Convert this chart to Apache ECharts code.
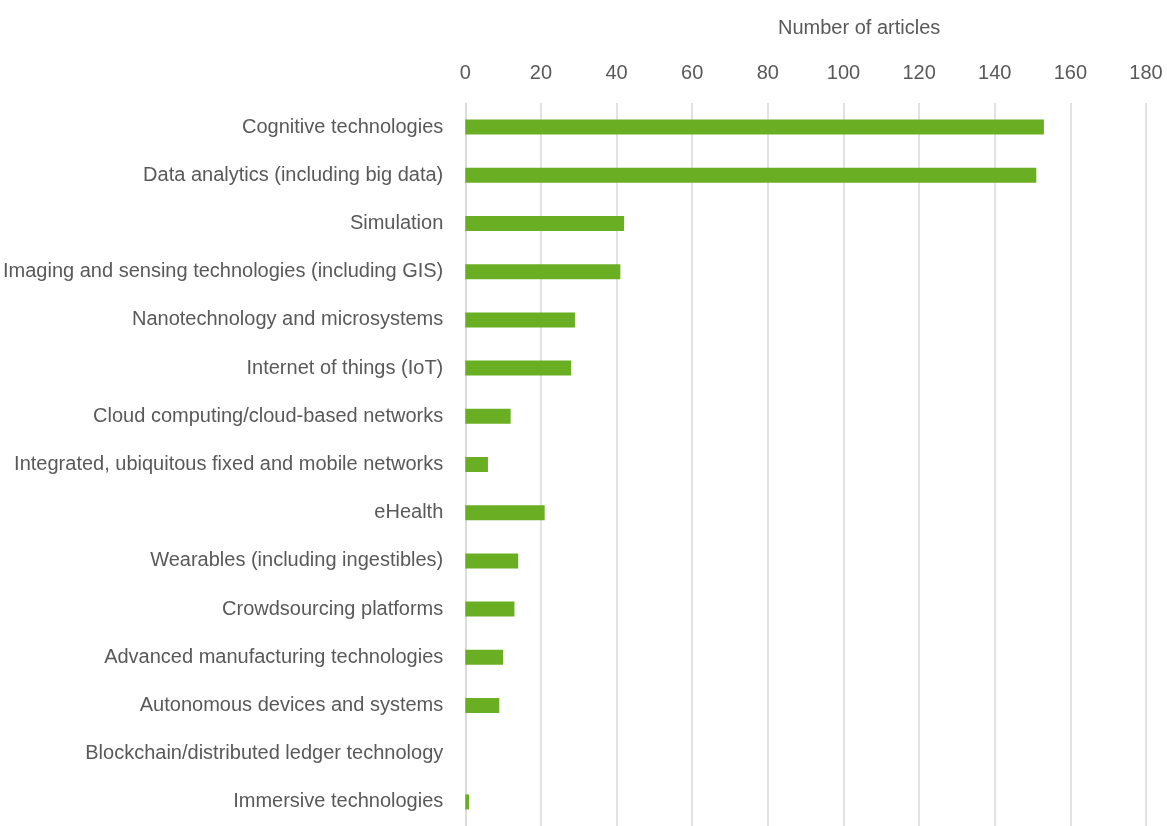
<!DOCTYPE html>
<html>
<head>
<meta charset="utf-8">
<script src="https://cdn.jsdelivr.net/npm/echarts@6/dist/echarts.min.js"></script>
<style>
  html, body { margin: 0; padding: 0; background: #ffffff; }
  #chart { width: 1167px; height: 826px; }
</style>
</head>
<body>
<div id="chart"></div>
<script>
// Technology categories, listed top to bottom
const categories = [
  'Cognitive technologies',
  'Data analytics (including big data)',
  'Simulation',
  'Imaging and sensing technologies (including GIS)',
  'Nanotechnology and microsystems',
  'Internet of things (IoT)',
  'Cloud computing/cloud-based networks',
  'Integrated, ubiquitous fixed and mobile networks',
  'eHealth',
  'Wearables (including ingestibles)',
  'Crowdsourcing platforms',
  'Advanced manufacturing technologies',
  'Autonomous devices and systems',
  'Blockchain/distributed ledger technology',
  'Immersive technologies'
];

// Number of articles per technology
const articleCounts = [153, 151, 42, 41, 29, 28, 12, 6, 21, 14, 13, 10, 9, 0, 1];

// Value axis range
const axisMin = 0;
const axisMax = 180;
const axisStep = 20;

const fontFamily = "'Liberation Sans Narrow', 'Arial Narrow', 'Liberation Sans', Arial, sans-serif";
const textColor = '#595959';

const chart = echarts.init(document.getElementById('chart'), null, { renderer: 'canvas' });

chart.setOption({
  animation: false,
  backgroundColor: '#ffffff',
  title: {
    text: 'Number of articles',
    left: 773,
    top: 13,
    textStyle: { fontFamily: fontFamily, fontSize: 20, fontWeight: 'normal', color: textColor }
  },
  grid: {
    left: 465,
    right: 21,
    top: 103,
    height: 727
  },
  xAxis: {
    type: 'value',
    position: 'top',
    min: axisMin,
    max: axisMax,
    interval: axisStep,
    axisLine: { show: false },
    axisTick: { show: false },
    axisLabel: {
      margin: 20,
      fontFamily: fontFamily,
      fontSize: 20,
      color: textColor
    },
    splitLine: { show: true, lineStyle: { color: '#d9d9d9', width: 1.5 } }
  },
  yAxis: {
    type: 'category',
    data: categories,
    inverse: true,
    axisLine: { show: true, lineStyle: { color: '#d9d9d9', width: 1.5 } },
    axisTick: { show: false },
    axisLabel: {
      margin: 22,
      fontFamily: fontFamily,
      fontSize: 20,
      color: textColor
    }
  },
  series: [{
    type: 'bar',
    data: articleCounts,
    barWidth: 15,
    itemStyle: { color: '#6aaf23' }
  }]
});
</script>
</body>
</html>
